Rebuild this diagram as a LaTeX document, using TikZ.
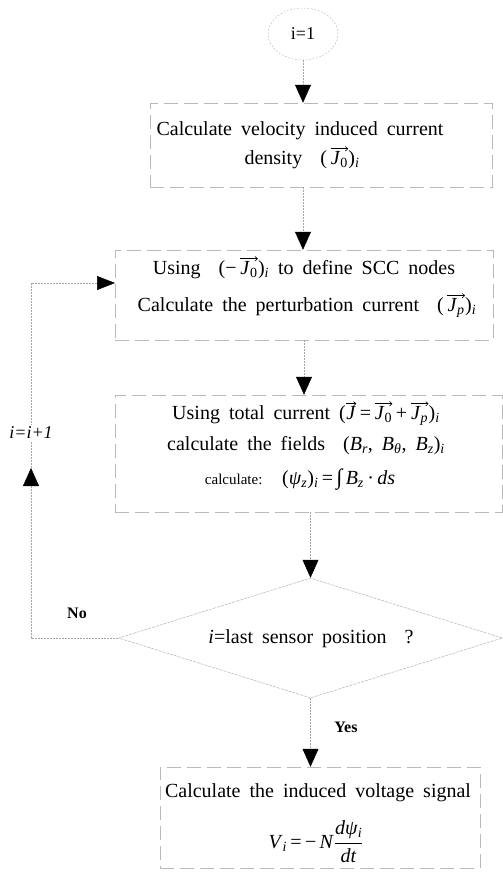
\documentclass[tikz,border=0pt]{standalone}
\usepackage{amsmath}
\usepackage{fontspec}
\setmainfont[WordSpace=1.8]{Liberation Serif}
\usetikzlibrary{arrows.meta,shapes.geometric}
\newcommand{\varr}[1]{\tikz[baseline=(v.base)]{\node[inner sep=0pt, anchor=base] (v) at (0,0) {#1};
  \draw[line width=0.6pt, -{To[length=3pt,width=5pt]}] ([yshift=2pt]v.north west) -- ([yshift=2pt]v.north east);}}
\newcommand{\vi}[1]{\textit{#1}}
\newcommand{\sbi}[1]{\textsubscript{\textit{#1}}}
\newcommand{\sbr}[1]{\textsubscript{#1}}
\begin{document}
\begin{tikzpicture}[x=1pt,y=-1pt,
  boxline/.style={draw=gray!55, line width=0.5pt, dash pattern=on 14pt off 6pt, inner sep=0pt},
  conn/.style={draw=gray!70, line width=0.5pt, dash pattern=on 2pt off 1pt},
  tip/.style={-{Triangle[width=16pt,length=18pt,color=black]}},
  txt/.style={font=\fontsize{20}{24}\selectfont, inner sep=0pt, anchor=base, text height=13pt, text depth=4pt},
  lbl/.style={font=\fontsize{16}{19}\selectfont\bfseries, inner sep=0pt},
]
\useasboundingbox (0,0) rectangle (503,875);

% shapes
\node[ellipse, draw=gray!60, line width=0.5pt, dash pattern=on 1.5pt off 2pt,
      minimum width=70pt, minimum height=52pt, inner sep=0pt,
      font=\fontsize{18}{20}\selectfont] (ell) at (303,34) {i=1};
\node[boxline, minimum width=342pt, minimum height=84pt] (b1) at (321,145) {};
\node[boxline, minimum width=378pt, minimum height=90pt] (b2) at (304,295) {};
\node[boxline, minimum width=387pt, minimum height=117pt] (b3) at (308.5,453.5) {};
\node[diamond, draw=gray!60, line width=0.5pt, dash pattern=on 3pt off 1pt, inner sep=0pt,
      minimum width=384pt, minimum height=120pt] (dia) at (310.5,638) {};
\node[boxline, minimum width=320pt, minimum height=101pt] (b4) at (320,817.5) {};

% texts
\node[txt] (t11) at (300,135) {Calculate velocity induced current};
\node[txt] (t12) at (302,164) {density \ (\,\varr{\vi{J}\sbr{0}})\sbi{i}};
\node[txt] (t21) at (304,274) {Using \ (−\,\varr{\vi{J}\sbr{0}})\sbi{i} to define SCC nodes};
\node[txt] (t22) at (307,311) {Calculate the perturbation current \ (\,\varr{\vi{J}\sbi{p}})\sbi{i}};
\node[txt] (t31) at (306,419) {Using total current (\varr{\vi{J}}\,=\,\varr{\vi{J}\sbr{0}}\,+\,\varr{\vi{J}\sbi{p}})\sbi{i}};
\node[txt] (t32) at (306,450) {calculate the fields \ (\vi{B}\sbi{r}, \vi{B}\sbi{θ}, \vi{B}\sbi{z})\sbi{i}};
\node[txt] (t33) at (300,484) {{\fontsize{15}{18}\selectfont calculate:} \ (\vi{ψ}\sbi{z})\sbi{i}\,=\,{\fontsize{22}{22}\selectfont ∫}\,\vi{B}\sbi{z}\,·\,\vi{ds}};
\node[txt] (td) at (311,643) {\vi{i}=last sensor position \ ?};
\node[txt] (t41) at (318,797) {Calculate the induced voltage signal};
\node[font=\fontsize{20}{24}\selectfont, inner sep=0pt] (t42) at (316,842)
  {$\text{\vi{V}\sbi{i}\,=\,−\,\vi{N}}\dfrac{\text{\vi{dψ}\sbi{i}}}{\text{\vi{dt}}}$};

% connectors
\draw[conn,tip] (ell.south) -- (b1.north -| ell.south);
\draw[conn,tip] (b1.south -| ell.south) -- (b2.north -| ell.south);
\draw[conn,tip] (b2.south -| t21) -- (b3.north -| t21);
\draw[conn,tip] (b3.south -| dia.north) -- (dia.north);
\draw[conn,tip] (dia.south) -- (b4.north -| dia.south);

% loop back
\coordinate (up) at (31,468);
\coordinate (b2in) at (115,283);
\draw[conn,tip] (dia.west) -| (up);
\draw[conn,-{Triangle[width=14pt,length=18pt,color=black]}] (up) |- (b2in);
\node[fill=white, inner sep=2pt, font=\fontsize{18}{20}\selectfont\itshape] (inc) at (31,433) {i=i+1};
\node[lbl] (no) at (77,613) {No};
\node[lbl] (yes) at (346,727) {Yes};
\end{tikzpicture}
\end{document}
